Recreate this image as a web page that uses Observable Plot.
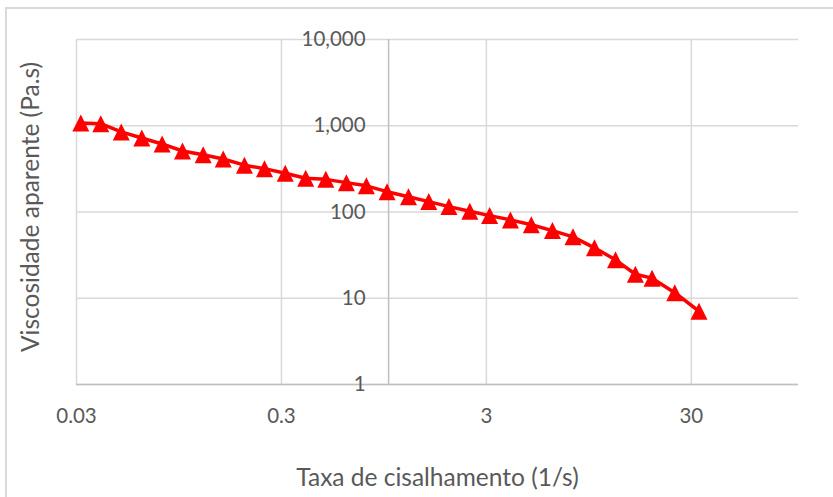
<!DOCTYPE html>
<html><head><meta charset="utf-8">
<script src="https://cdn.jsdelivr.net/npm/d3@7"></script>
<script src="https://cdn.jsdelivr.net/npm/@observablehq/plot@0.6"></script>
<style>
body{margin:0;background:#fff;}
#wrap{position:relative;width:833px;height:497px;overflow:hidden;background:#fff;}
#frame{position:absolute;left:5px;top:7px;width:900px;height:600px;border:2px solid #d9d9d9;box-sizing:border-box;}
#wrap svg{position:absolute;left:0;top:0;}
</style></head><body><div id="wrap"><div id="frame"></div></div>
<script>
const shearRate = [0.0315, 0.0394, 0.0496, 0.0625, 0.0785, 0.0987, 0.1245, 0.156, 0.198, 0.248, 0.313, 0.394, 0.494, 0.622, 0.779, 0.983, 1.25, 1.57, 1.97, 2.49, 3.11, 3.93, 4.97, 6.30, 7.94, 10.1, 12.8, 16.0, 19.3, 24.9, 32.7];
const viscosity = [1078, 1057, 848, 722, 615, 510, 462, 412, 349, 318, 281, 246, 239, 219, 201, 172, 150, 132, 115.5, 102, 90.8, 81, 71.1, 60.9, 51.5, 38.4, 27.9, 19.0, 17.1, 11.6, 7.07];
const xTicks = [0.03, 0.3, 3, 30];
const xTickLabels = ["0.03", "0.3", "3", "30"];
const yTicks = [1, 10, 100, 1000, 10000];
const yTickLabels = ["1", "10", "100", "1,000", "10,000"];
const xDomain = [0.03, 100];
const yDomain = [1, 10000];
const yAxisCross = 1;
const xTitle = "Taxa de cisalhamento (1/s)";
const yTitle = "Viscosidade aparente (Pa.s)";

const data = shearRate.map((x, i) => ({x, y: viscosity[i]}));

const triangle = {
  draw(ctx, size) {
    const h = Math.sqrt(size / Math.PI);
    ctx.moveTo(0, -h);
    ctx.lineTo(h, h);
    ctx.lineTo(-h, h);
    ctx.closePath();
  }
};

const grid = "#d9d9d9", axisCol = "#bfbfbf", txt = "#595959";
const F = "Lato, 'Open Sans', sans-serif";

const chart = Plot.plot({
  width: 833, height: 497,
  marginLeft: 76, marginRight: 35, marginTop: 39, marginBottom: 113,
  style: {fontFamily: F, background: "transparent", overflow: "visible"},
  x: {type: "log", domain: xDomain, axis: null},
  y: {type: "log", domain: yDomain, axis: null},
  marks: [
    Plot.gridX(xTicks, {stroke: grid, strokeOpacity: 1, strokeWidth: 1.5}),
    Plot.gridY(yTicks, {stroke: grid, strokeOpacity: 1, strokeWidth: 1.5}),
    Plot.ruleY([yDomain[0]], {stroke: axisCol, strokeWidth: 1.5}),
    Plot.ruleX([yAxisCross], {stroke: axisCol, strokeWidth: 1.5}),
    Plot.text(xTicks, {x: d => d, frameAnchor: "bottom", dy: 32, text: (d, i) => xTickLabels[i],
      fill: txt, fontSize: 20.5, lineAnchor: "middle"}),
    Plot.text(yTicks, {x: () => yAxisCross, y: d => d, dx: -23, text: (d, i) => yTickLabels[i],
      textAnchor: "end", fill: txt, fontSize: 20.5, lineAnchor: "middle"}),
    Plot.text([xTitle], {frameAnchor: "bottom", dy: 94, text: d => d, fill: txt, fontSize: 24.5,
      textAnchor: "middle", lineAnchor: "middle"}),
    Plot.text([yTitle], {frameAnchor: "left", dx: -45, dy: -5, rotate: -90, text: d => d, fill: txt, fontSize: 24.5,
      textAnchor: "middle", lineAnchor: "middle"}),
    Plot.line(data, {x: "x", y: "y", stroke: "#ff0000", strokeWidth: 3.5}),
    Plot.dot(data, {x: "x", y: "y", symbol: triangle, r: 8.5, fill: "#ff0000", stroke: "none"})
  ]
});
document.getElementById("wrap").appendChild(chart);
</script>
</body></html>
